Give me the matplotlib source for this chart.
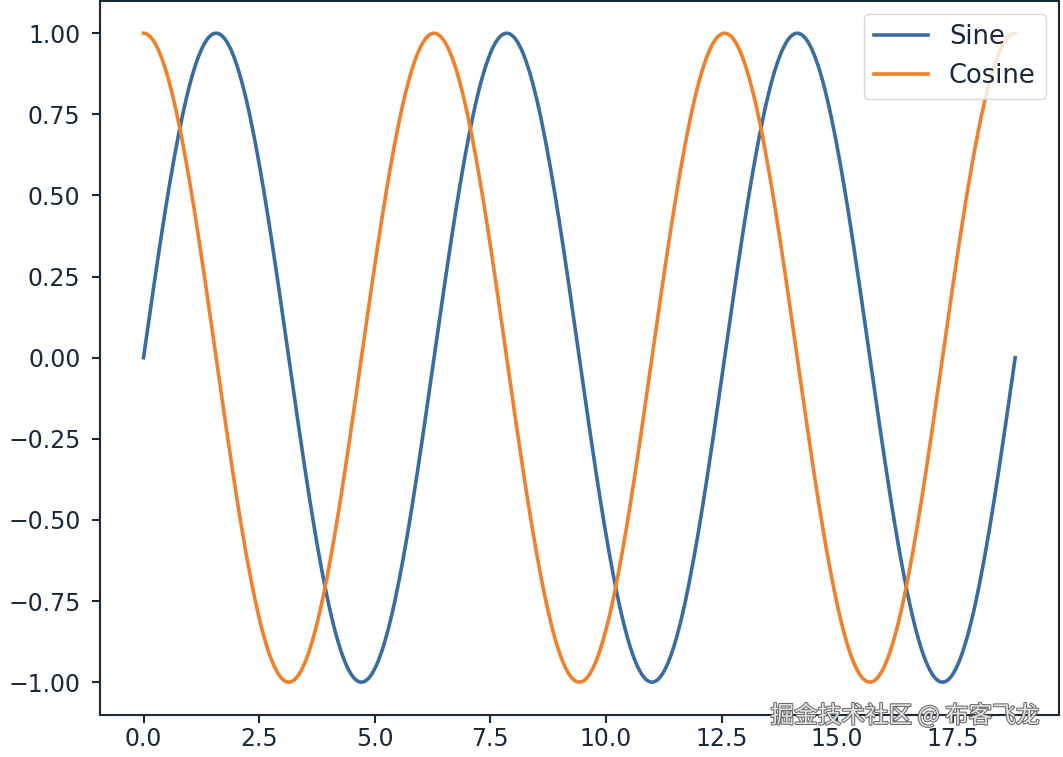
import numpy as np
import matplotlib
matplotlib.use("Agg")
import matplotlib.pyplot as plt
import matplotlib.patheffects as pe

# curve range: three full periods, 0 .. 6*pi
x_start = 0.0
x_stop = 6 * np.pi
n_points = 400
series_names = ["Sine", "Cosine"]
series_colors = ["#3a6d9e", "#f0802a"]
watermark = "掘金技术社区 @ 布客飞龙"

x = np.linspace(x_start, x_stop, n_points)
ys = [np.sin(x), np.cos(x)]

ink = "#1b2838"
plt.rcParams["font.family"] = ["DejaVu Sans"]
plt.rcParams["font.size"] = 17
plt.rcParams["text.color"] = ink
plt.rcParams["xtick.color"] = ink
plt.rcParams["ytick.color"] = ink
plt.rcParams["axes.edgecolor"] = ink

fig = plt.figure(figsize=(10.63, 7.57), dpi=100)
ax = fig.add_axes([0.094, 0.056, 0.902, 0.943])

for y, name, c in zip(ys, series_names, series_colors):
    ax.plot(x, y, color=c, lw=2.6, label=name)

ax.set_yticks([-1.0, -0.75, -0.5, -0.25, 0.0, 0.25, 0.5, 0.75, 1.0])
ax.set_yticklabels(["−1.00", "−0.75", "−0.50", "−0.25", "0.00", "0.25", "0.50", "0.75", "1.00"])
ax.set_xticks([0.0, 2.5, 5.0, 7.5, 10.0, 12.5, 15.0, 17.5])
for sp in ax.spines.values():
    sp.set_linewidth(1.5)
ax.tick_params(width=1.5, length=6)
ax.tick_params(axis="y", pad=8)
ax.tick_params(axis="x", pad=3)

leg = ax.legend(loc="upper right", fontsize=18.5, handlelength=2.1)
leg.get_frame().set_edgecolor("#d0d0d0")

# watermark sits over the bottom spine, just above the tick labels
fig.text(0.978, 0.055, watermark, ha="right", va="center", fontsize=17,
         family=["Noto Sans CJK SC", "DejaVu Sans"], color="#e4e4e4",
         path_effects=[pe.withStroke(linewidth=1.5, foreground="#6a6a6a")])

fig.savefig("out.png", dpi=100)
